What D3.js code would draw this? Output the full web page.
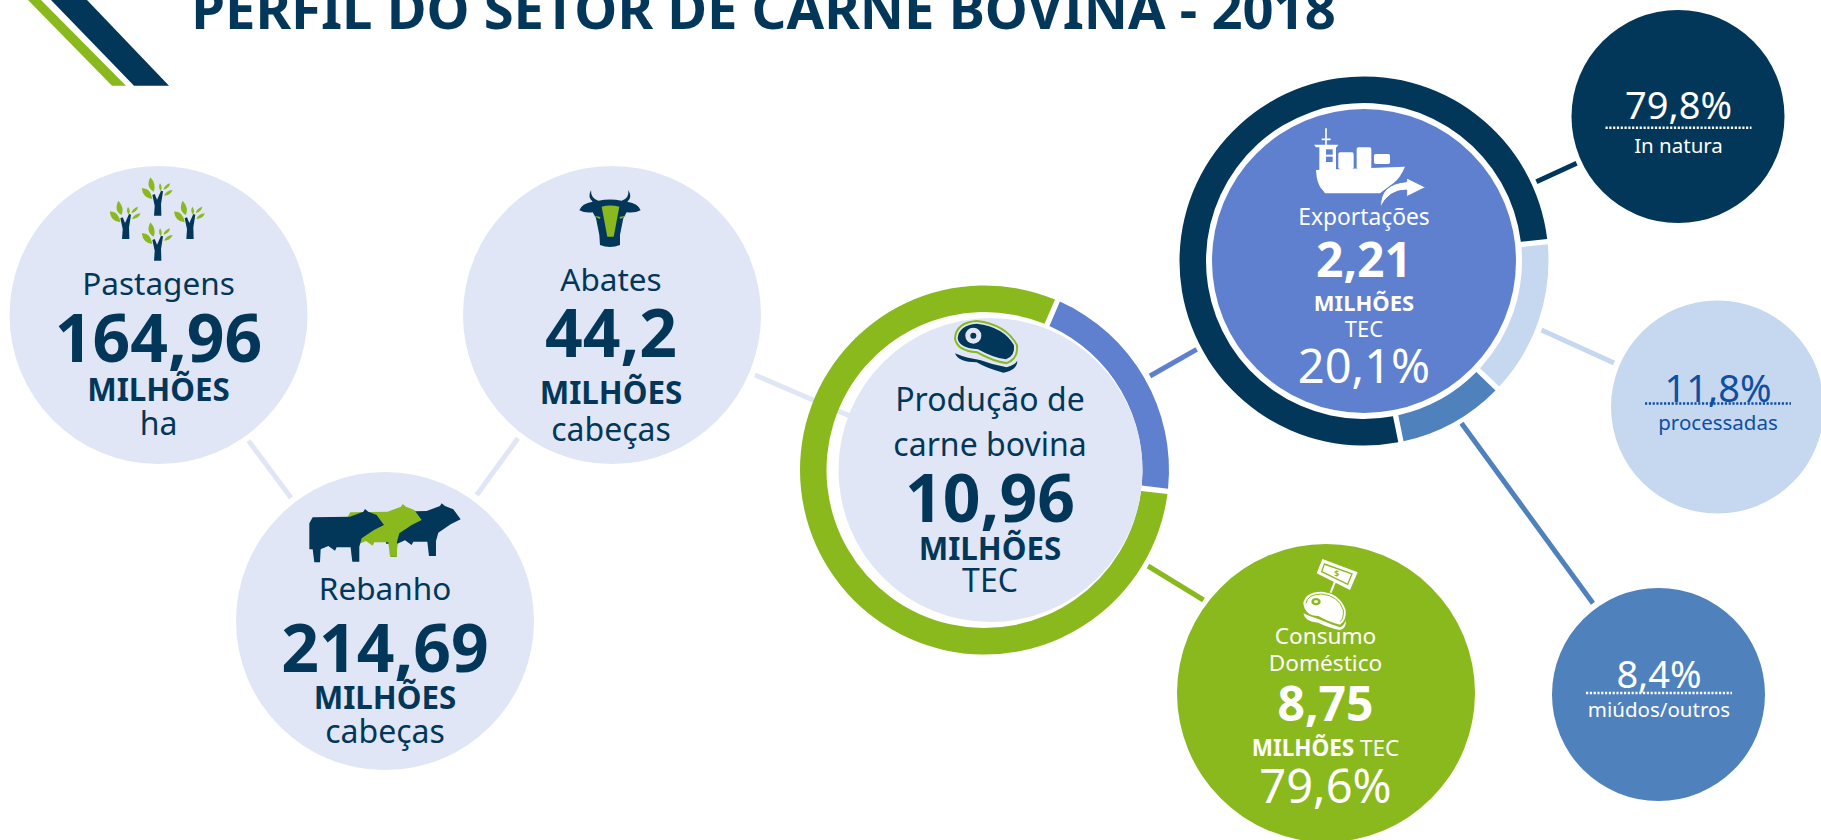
<!DOCTYPE html>
<html>
<head>
<meta charset="utf-8">
<script src="https://cdn.jsdelivr.net/npm/d3@7"></script>
<style>
    html, body { margin: 0; padding: 0; background: #fff; overflow: hidden; }
    text { font-family: "Noto Sans", sans-serif; text-anchor: middle; }
</style>
</head>
<body>
<div id="chart"></div>
<script>
// values
var title = "PERFIL DO SETOR DE CARNE BOVINA - 2018";

var statNames = ["Pastagens", "Rebanho", "Abates"];
var statValues = [164.96, 214.69, 44.2];
var statUnits = ["ha", "cabeças", "cabeças"];

var productionValue = 10.96;
var exportValue = 2.21;
var domesticValue = 8.75;

var productionShares = [20.1, 79.6];        // exportações, consumo

var exportLabels = ["In natura", "processadas", "miúdos/outros"];
var exportShares = [79.8, 11.8, 8.4];
// the ring in the picture is not drawn to the labels, so arcs are read separately
var exportArcLabels = ["processadas", "miúdos/outros", "In natura"];
var exportArcShares = [13.6, 9.4, 77];

var navy = "#03375a", green = "#8ab91e", pale = "#e1e6f6", blue = "#5e80cf",
    sky = "#c6d8f0", steel = "#4f81bd", inkBlue = "#0f4ea0";

var width = 1821, height = 840;

var svg = d3.select("#chart")
    .append("svg")
    .attr("width", width)
    .attr("height", height)
    .style("display", "block");

function fmt(v) { return String(v).replace(".", ","); }
function pct(v) { return fmt(v) + "%"; }
function rad(deg) { return deg * Math.PI / 180; }

function label(g, str, x, y, size, color, bold) {
    return g.append("text")
        .attr("x", x)
        .attr("y", y)
        .attr("font-size", size)
        .attr("font-weight", bold ? 700 : 400)
        .attr("fill", color)
        .text(str);
}

function link(x1, y1, x2, y2, color) {
    svg.append("line")
        .attr("x1", x1).attr("y1", y1)
        .attr("x2", x2).attr("y2", y2)
        .attr("stroke", color)
        .attr("stroke-width", 5);
}

function bubble(cx, cy, r, color) {
    svg.append("circle")
        .attr("cx", cx).attr("cy", cy).attr("r", r)
        .attr("fill", color);
}

function ring(cx, cy, shares, colors, startDeg) {
    var pie = d3.pie()
        .sort(null)
        .startAngle(rad(startDeg))
        .endAngle(rad(startDeg + 360))
        .padAngle(0.022);
    var arc = d3.arc().innerRadius(158).outerRadius(184.5);
    svg.append("g")
        .attr("transform", "translate(" + cx + "," + cy + ")")
        .selectAll("path")
        .data(pie(shares))
        .enter()
        .append("path")
        .attr("d", arc)
        .attr("fill", function(d, i) { return colors[i]; });
}

// corner logo
svg.append("path").attr("d", "M51,0 L87,0 L169,85.7 L134,85.7 Z").attr("fill", navy);
svg.append("path").attr("d", "M28,0 L41,0 L126,85.7 L112,85.7 Z").attr("fill", green);

label(svg, title, 763.5, 29, 54.4, navy, true);

// connectors go under the circles
link(248.5, 440.7, 291, 497.7, pale);
link(518, 438.3, 476.7, 495, pale);
link(755, 375, 850, 416, pale);
link(1150, 376, 1196.7, 349.3, blue);
link(1148, 566, 1203.5, 600, green);
link(1536.4, 181.7, 1576.6, 163.3, navy);
link(1541.5, 330, 1614, 363, sky);
link(1461.5, 423.3, 1593, 603.3, steel);

// the three stat circles
var statLayout = [
    { cx: 158.5, cy: 315, tx: 158.5, base: [295, 362, 401, 435] },
    { cx: 385, cy: 621, tx: 385, base: [600, 672, 709, 743] },
    { cx: 612, cy: 315, tx: 611, base: [291, 357, 404, 441] }
];

statNames.forEach(function(name, i) {
    var p = statLayout[i];
    bubble(p.cx, p.cy, 149, pale);
    label(svg, name, p.tx, p.base[0], 31.5, navy, false);
    label(svg, fmt(statValues[i]), p.tx, p.base[1], 66, navy, true);
    label(svg, "MILHÕES", p.tx, p.base[2], 31.3, navy, true);
    label(svg, statUnits[i], p.tx, p.base[3], 32, navy, false);
});

// production ring
ring(984.5, 470, productionShares, [blue, green], 23.3);
bubble(990.5, 470, 152, pale);
label(svg, "Produção de", 990, 411, 32, navy, false);
label(svg, "carne bovina", 990, 456, 32, navy, false);
label(svg, fmt(productionValue), 990, 522, 66, navy, true);
label(svg, "MILHÕES", 990, 560, 31.3, navy, true);
label(svg, "TEC", 990, 592, 32, navy, false);

// export ring
var arcColors = { "In natura": navy, "processadas": sky, "miúdos/outros": steel };
ring(1364, 261, exportArcShares, exportArcLabels.map(function(d) { return arcColors[d]; }), 84);
bubble(1364, 261, 152, blue);
label(svg, "Exportações", 1364, 225, 22.8, "#fff", false);
label(svg, fmt(exportValue), 1364, 277, 48, "#fff", true);
label(svg, "MILHÕES", 1364, 311, 22, "#fff", true);
label(svg, "TEC", 1364, 337, 22, "#fff", false);
label(svg, pct(productionShares[0]), 1364, 383, 47, "#fff", false);

// domestic consumption
bubble(1326, 693, 149, green);
label(svg, "Consumo", 1325.5, 644, 22.6, "#fff", false);
label(svg, "Doméstico", 1325.5, 671, 22.6, "#fff", false);
label(svg, fmt(domesticValue), 1325.5, 721, 48, "#fff", true);
var mt = label(svg, "MILHÕES", 1325.5, 756, 22.5, "#fff", true);
mt.append("tspan").attr("font-weight", 400).text(" TEC");
label(svg, pct(productionShares[1]), 1325.5, 803, 47, "#fff", false);

// export breakdown
var shareLayout = [
    { cx: 1678, cy: 116.5, tx: 1678.5, pctY: 119, dotY: 127.7, nameY: 153, fill: navy, ink: "#fff" },
    { cx: 1717.5, cy: 407, tx: 1718, pctY: 402, dotY: 403.5, nameY: 430, fill: sky, ink: inkBlue },
    { cx: 1658.5, cy: 694.5, tx: 1659, pctY: 688, dotY: 693, nameY: 717, fill: steel, ink: "#fff" }
];

exportLabels.forEach(function(name, i) {
    var p = shareLayout[i];
    bubble(p.cx, p.cy, 106.5, p.fill);
    label(svg, pct(exportShares[i]), p.tx, p.pctY, 38, p.ink, false);
    svg.append("line")
        .attr("x1", p.tx - 73).attr("x2", p.tx + 73)
        .attr("y1", p.dotY).attr("y2", p.dotY)
        .attr("stroke", p.ink)
        .attr("stroke-width", 2.4)
        .attr("stroke-dasharray", "2.2 1.6");
    label(svg, name, p.tx, p.nameY, 20.5, p.ink, false);
});

// ---- icons ----
function tree(x, y) {
    var g = svg.append("g").attr("transform", "translate(" + x + "," + y + ") scale(0.3333)");
    g.append("path").attr("fill", navy)
        .attr("d", "M-11,0 L-9,-30 L-16,-62 L-9,-65 L-2,-48 L10,-75 L16,-73 L10,-35 L11,0 Z");
    g.append("path").attr("fill", green)
        .attr("d", "M-22,-115 Q-3,-95 -12,-72 Q-37,-85 -22,-115 Z M-48,-82 Q-22,-85 -16,-50 Q-44,-52 -48,-82 Z M7,-97 Q16,-85 9,-73 Q0,-85 7,-97 Z M37,-97 Q35,-82 17,-78 Q20,-92 37,-97 Z M45,-77 Q38,-60 19,-60 Q25,-75 45,-77 Z");
}
tree(157.7, 215.7);
tree(125.7, 239);
tree(190, 239);
tree(157.7, 260.7);

// cow head
var head = svg.append("g").attr("transform", "translate(570,185) scale(0.3333)");
head.append("path").attr("fill", navy)
    .attr("d", "M63,15 Q62,40 85,47 Q120,40 155,47 Q178,40 175,15 Q188,38 172,50 Q205,55 212,76 Q195,85 170,82 L160,100 L150,150 L150,180 Q120,192 90,180 L88,150 L78,100 L68,82 Q45,85 28,76 Q35,55 68,50 Q52,38 63,15 Z");
head.append("path").attr("fill", green)
    .attr("d", "M95,65 Q120,58 148,65 L131,155 L112,155 Z M72,92 L92,96 L88,102 Z M168,92 L148,96 L152,102 Z");

// cows
var cowPoints = "268,268 268,190 278,172 390,170 430,155 435,147 445,155 470,165 492,195 462,210 425,235 418,260 418,305 397,305 392,262 350,262 345,272 325,258 302,268 300,307 283,307 278,268";
var cows = svg.append("g").attr("transform", "translate(220,460) scale(0.3333)");
[[230, -17, navy], [113, -15, green], [0, 0, navy]].forEach(function(c) {
    cows.append("polygon")
        .attr("points", cowPoints)
        .attr("transform", "translate(" + c[0] + "," + c[1] + ")")
        .attr("fill", c[2]);
});

// steak on the production circle
var steak = svg.append("g").attr("transform", "translate(780,270) scale(0.3333)");
steak.append("path").attr("fill", navy)
    .attr("d", "M525,250 Q560,265 600,270 Q640,285 680,292 Q705,285 712,272 Q712,300 670,308 Q620,295 590,277 Q535,277 525,250 Z");
steak.append("path").attr("fill", green)
    .attr("d", "M522,205 Q525,155 590,150 Q680,160 714,225 Q718,270 680,283 Q640,278 590,250 Q527,245 522,205 Z");
steak.append("path").attr("fill", pale)
    .attr("d", "M528,205 Q531,161 590,156 Q676,166 708,226 Q712,264 680,276 Q642,272 592,244 Q533,240 528,205 Z");
steak.append("path").attr("fill", navy)
    .attr("d", "M533,205 Q536,166 590,161 Q672,171 702,226 Q706,258 678,268 Q642,265 594,238 Q538,235 533,205 Z");
steak.append("circle").attr("cx", 580).attr("cy", 197).attr("r", 24).attr("fill", pale);
steak.append("circle").attr("cx", 580).attr("cy", 197).attr("r", 9).attr("fill", navy);

// ship
var ship = svg.append("g").attr("transform", "translate(1290,110) scale(0.3333)");
ship.append("path").attr("stroke", "#fff").attr("stroke-width", 5).attr("fill", "none")
    .attr("d", "M108,55 L108,105 M95,88 L122,88");
ship.append("path").attr("fill", "#fff")
    .attr("d", "M72,104 L145,104 L140,112 L138,112 L138,180 L88,180 L88,112 L78,112 Z");
ship.append("rect").attr("x", 108).attr("y", 118).attr("width", 20).attr("height", 16).attr("fill", blue);
ship.append("rect").attr("x", 108).attr("y", 140).attr("width", 20).attr("height", 16).attr("fill", blue);
ship.append("rect").attr("x", 145).attr("y", 127).attr("width", 46).attr("height", 50).attr("rx", 5).attr("fill", "#fff");
ship.append("rect").attr("x", 200).attr("y", 112).attr("width", 44).attr("height", 65).attr("rx", 5).attr("fill", "#fff");
ship.append("rect").attr("x", 252).attr("y", 132).attr("width", 48).attr("height", 30).attr("rx", 5).attr("fill", "#fff");
ship.append("path").attr("fill", "#fff")
    .attr("d", "M78,180 L345,170 Q330,205 310,220 L270,250 L105,250 L98,240 Q80,225 78,180 Z");
ship.append("path").attr("fill", "#fff").attr("stroke", blue).attr("stroke-width", 3)
    .attr("d", "M272,292 Q268,222 350,215 L350,204 L407,232 L350,260 L350,240 Q295,240 272,292 Z");

// price tag steak
var tag = svg.append("g").attr("transform", "translate(1290,550) scale(0.3333)");
tag.append("line").attr("x1", 135).attr("y1", 95).attr("x2", 122).attr("y2", 128)
    .attr("stroke", "#fff").attr("stroke-width", 6);
tag.append("path").attr("fill", "#fff")
    .attr("d", "M97,27 L203,67 L180,120 L80,70 Z");
tag.append("path").attr("fill", "none").attr("stroke", green).attr("stroke-width", 4)
    .attr("d", "M103,42 L186,72 L173,103 L95,65 Z");
label(tag, "$", 140, 82, 26, green, true);
tag.append("path").attr("fill", "#fff")
    .attr("d", "M40,190 Q60,200 85,207 Q120,222 150,232 Q165,225 167,210 Q170,235 150,240 Q120,235 85,218 Q45,216 40,190 Z");
tag.append("path").attr("fill", "#fff")
    .attr("d", "M40,160 Q45,125 95,125 Q150,130 167,180 Q170,212 150,224 Q120,218 85,198 Q45,198 40,160 Z");
tag.append("path").attr("fill", "none").attr("stroke", green).attr("stroke-width", 3)
    .attr("d", "M48,160 Q52,133 95,132 Q145,137 160,180 Q162,205 150,215");
tag.append("ellipse").attr("cx", 78).attr("cy", 155).attr("rx", 14).attr("ry", 11).attr("fill", green);
tag.append("ellipse").attr("cx", 78).attr("cy", 155).attr("rx", 6).attr("ry", 4).attr("fill", "#fff");
</script>
</body>
</html>
